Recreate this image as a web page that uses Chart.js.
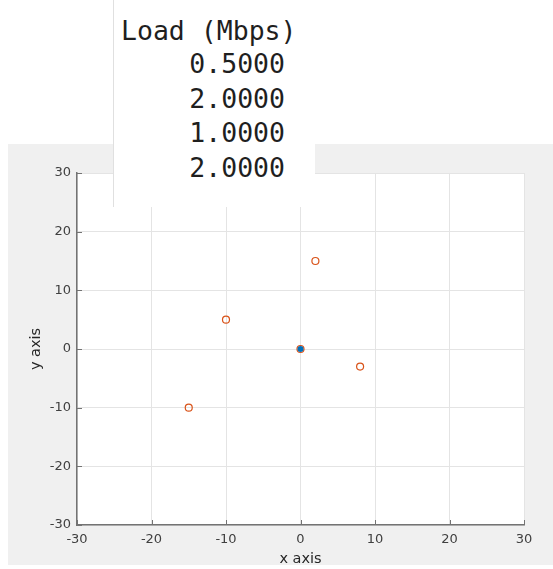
<!DOCTYPE html>
<html>
<head>
<meta charset="utf-8">
<script src="https://cdn.jsdelivr.net/npm/chart.js@4"></script>
<style>
  html, body { margin: 0; padding: 0; background: #fff; }
  body { width: 553px; height: 569px; position: relative; overflow: hidden; }
  #panel { position: absolute; left: 8px; top: 144px; width: 545px; height: 421px; background: #f0f0f0; }
  #wrap { position: absolute; left: 8px; top: 144px; width: 545px; height: 425px; }
  #loadTable {
    position: absolute; left: 113px; top: 0; width: 202px; height: 207px;
    background: #fff; border-left: 1px solid #e0e0e0; box-sizing: border-box;
    font-family: "DejaVu Sans Mono", monospace; font-size: 26.5px; color: #1f1f1f;
  }
  #loadTable .head { position: absolute; left: 7px; top: 14px; line-height: 34.6px; white-space: pre; }
  #loadTable .vals { position: absolute; right: 30px; top: 47px; line-height: 34.6px; text-align: right; white-space: pre; }
</style>
</head>
<body>
<div id="panel"></div>
<div id="wrap"><canvas id="scatterChart"></canvas></div>
<div id="loadTable"><div class="head" id="loadHead"></div><div class="vals" id="loadVals"></div></div>
<script>
const nodeX = [0];
const nodeY = [0];
const userX = [0, 2, -10, 8, -15];
const userY = [0, 15, 5, -3, -10];
const loads = [0.5, 2, 1, 2];
const loadHeader = 'Load (Mbps)';
const axisTicks = [-30, -20, -10, 0, 10, 20, 30];

document.addEventListener('DOMContentLoaded', function() {
    // Load table (uitable-like box)
    document.getElementById('loadHead').textContent = loadHeader;
    document.getElementById('loadVals').textContent = loads.map(v => v.toFixed(4)).join('\n');

    const ctx = document.getElementById('scatterChart').getContext('2d');
    const axisColor = '#737373';
    const tickFont = { family: 'DejaVu Sans', size: 13 };
    const titleFont = { family: 'DejaVu Sans', size: 14.5 };

    // white axes background
    const axesBackground = {
        id: 'axesBackground',
        beforeDraw(chart) {
            const a = chart.chartArea;
            chart.ctx.save();
            chart.ctx.fillStyle = '#ffffff';
            chart.ctx.fillRect(a.left, a.top, a.right - a.left, a.bottom - a.top);
            chart.ctx.restore();
        }
    };

    // MATLAB style ticks pointing inward
    const innerTicks = {
        id: 'innerTicks',
        afterDatasetsDraw(chart) {
            const c = chart.ctx;
            const area = chart.chartArea;
            const xs = chart.scales.x, ys = chart.scales.y;
            c.save();
            c.strokeStyle = axisColor;
            c.lineWidth = 1;
            axisTicks.forEach(v => {
                const px = Math.round(xs.getPixelForValue(v)) + 0.5;
                c.beginPath(); c.moveTo(px, area.bottom); c.lineTo(px, area.bottom - 5); c.stroke();
                const py = Math.round(ys.getPixelForValue(v)) + 0.5;
                c.beginPath(); c.moveTo(area.left, py); c.lineTo(area.left + 5, py); c.stroke();
            });
            c.restore();
        }
    };

    const axisOpts = (label, fit, pad, titlePad) => ({
        type: 'linear',
        min: -30,
        max: 30,
        afterBuildTicks: scale => { scale.ticks = axisTicks.map(v => ({ value: v })); },
        afterFit: fit,
        grid: { color: '#e4e4e4', lineWidth: 1, drawTicks: false },
        border: { display: true, color: axisColor, width: 1.5 },
        ticks: { font: tickFont, color: '#404040', padding: pad, maxRotation: 0 },
        title: { display: true, text: label, font: titleFont, color: '#262626', padding: titlePad }
    });

    new Chart(ctx, {
        type: 'scatter',
        data: {
            datasets: [{
                label: 'node',
                data: nodeX.map((x, i) => ({ x: x, y: nodeY[i] })),
                backgroundColor: '#0072BD',
                borderColor: '#0072BD',
                borderWidth: 0,
                pointRadius: 3
            }, {
                label: 'users',
                data: userX.map((x, i) => ({ x: x, y: userY[i] })),
                backgroundColor: 'rgba(0,0,0,0)',
                borderColor: '#D95319',
                borderWidth: 1.2,
                pointRadius: 3.5
            }]
        },
        options: {
            responsive: true,
            maintainAspectRatio: false,
            animation: false,
            layout: { padding: { top: 29, right: 29, left: 0, bottom: 0 } },
            plugins: { legend: { display: false }, tooltip: { enabled: false } },
            scales: {
                x: axisOpts('x axis', s => { s.height = 44; }, 7, { top: 0, bottom: 1 }),
                y: axisOpts('y axis', s => { s.width = 69; }, 6, { top: 20, bottom: 0 })
            }
        },
        plugins: [axesBackground, innerTicks]
    });
});
</script>
</body>
</html>
